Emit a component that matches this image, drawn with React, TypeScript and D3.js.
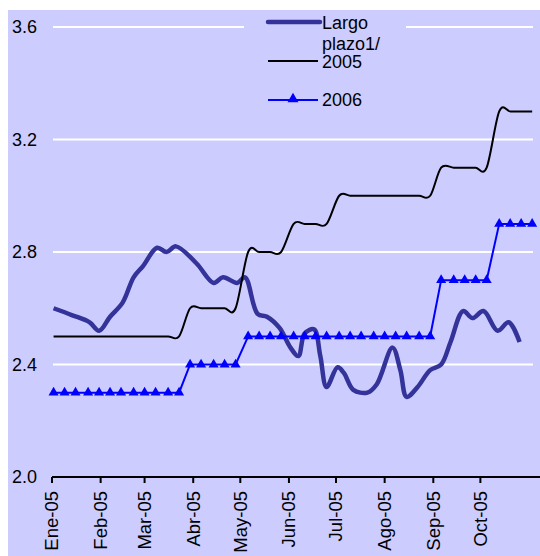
import React, { useEffect, useRef } from "react";
import * as d3 from "d3";

// weekly observation dates (2005 and 2006 series)
const fechasSemana = [
  "2005-01-02", "2005-01-09", "2005-01-16", "2005-01-24", "2005-01-31",
  "2005-02-07", "2005-02-14", "2005-02-22", "2005-03-01", "2005-03-08",
  "2005-03-16", "2005-03-23", "2005-03-30", "2005-04-06", "2005-04-14",
  "2005-04-21", "2005-04-28", "2005-05-06", "2005-05-13", "2005-05-20",
  "2005-05-27", "2005-06-04", "2005-06-11", "2005-06-18", "2005-06-25",
  "2005-07-03", "2005-07-10", "2005-07-17", "2005-07-25", "2005-08-01",
  "2005-08-08", "2005-08-15", "2005-08-23", "2005-08-30", "2005-09-06",
  "2005-09-14", "2005-09-21", "2005-09-28", "2005-10-05", "2005-10-13",
  "2005-10-20", "2005-10-27", "2005-11-03",
];

const serie2005 = [
  2.5, 2.5, 2.5, 2.5, 2.5, 2.5, 2.5, 2.5, 2.5, 2.5, 2.5, 2.5,
  2.6, 2.6, 2.6, 2.6, 2.6,
  2.8, 2.8, 2.8, 2.8,
  2.9, 2.9, 2.9, 2.9,
  3.0, 3.0, 3.0, 3.0, 3.0, 3.0, 3.0, 3.0, 3.0,
  3.1, 3.1, 3.1, 3.1, 3.1,
  3.3, 3.3, 3.3, 3.3,
];

const serie2006 = [
  2.3, 2.3, 2.3, 2.3, 2.3, 2.3, 2.3, 2.3, 2.3, 2.3, 2.3, 2.3,
  2.4, 2.4, 2.4, 2.4, 2.4,
  2.5, 2.5, 2.5, 2.5, 2.5, 2.5, 2.5, 2.5, 2.5, 2.5, 2.5, 2.5, 2.5, 2.5, 2.5, 2.5, 2.5,
  2.7, 2.7, 2.7, 2.7, 2.7,
  2.9, 2.9, 2.9, 2.9,
];

// long-term rate
const fechasLargo = [
  "2005-01-02", "2005-01-14", "2005-01-25", "2005-01-31", "2005-02-07",
  "2005-02-15", "2005-02-22", "2005-02-28", "2005-03-09", "2005-03-15",
  "2005-03-21", "2005-04-03", "2005-04-14", "2005-04-20", "2005-04-29",
  "2005-05-04", "2005-05-12", "2005-05-18", "2005-05-26", "2005-06-02",
  "2005-06-07", "2005-06-11", "2005-06-17", "2005-06-21", "2005-06-25",
  "2005-07-02", "2005-07-06", "2005-07-12", "2005-07-21", "2005-07-27",
  "2005-08-06", "2005-08-11", "2005-08-15", "2005-08-22", "2005-08-30",
  "2005-09-06", "2005-09-12", "2005-09-20", "2005-09-26", "2005-10-03",
  "2005-10-12", "2005-10-19", "2005-10-26",
];

const largoPlazo = [
  2.6, 2.575, 2.55, 2.52, 2.57, 2.62, 2.71, 2.75, 2.815, 2.8,
  2.82, 2.76, 2.69, 2.71, 2.69, 2.71, 2.58, 2.57, 2.53, 2.46,
  2.43, 2.51, 2.525, 2.43, 2.32, 2.39, 2.37, 2.31, 2.3, 2.33,
  2.46, 2.38, 2.285, 2.32, 2.38, 2.4, 2.48, 2.59, 2.565, 2.59,
  2.52, 2.55, 2.48,
];

const mesesTicks = [
  "2005-01-01", "2005-02-01", "2005-03-01", "2005-04-01", "2005-05-01",
  "2005-06-01", "2005-07-01", "2005-08-01", "2005-09-01", "2005-10-01",
];
const mesesLabels = [
  "Ene-05", "Feb-05", "Mar-05", "Abr-05", "May-05",
  "Jun-05", "Jul-05", "Ago-05", "Sep-05", "Oct-05",
];

const yTicks = [2.0, 2.4, 2.8, 3.2, 3.6];

const App = () => {
  const svgRef = useRef<SVGSVGElement | null>(null);

  useEffect(() => {
    const width = 540;
    const height = 556;
    const font = "Arial, 'Liberation Sans', sans-serif";
    const bg = "#ccccff";
    const parse = d3.utcParse("%Y-%m-%d");

    d3.select(svgRef.current).selectAll("*").remove();

    const svg = d3
      .select(svgRef.current)
      .attr("width", width)
      .attr("height", height)
      .style("font-family", font);

    svg
      .append("rect")
      .attr("x", 8)
      .attr("y", 10)
      .attr("width", width - 8)
      .attr("height", height - 10)
      .attr("fill", bg);

    const x = d3
      .scaleUtc()
      .domain([parse("2005-01-01")!, parse("2005-11-08")!])
      .range([52, 540]);

    const y = d3.scaleLinear().domain([2.0, 3.6]).range([477, 27]);

    // Gridlines
    svg
      .selectAll(".grid")
      .data(yTicks.filter((d) => d > 2.0))
      .enter()
      .append("line")
      .attr("x1", 53)
      .attr("x2", 533)
      .attr("y1", (d) => y(d))
      .attr("y2", (d) => y(d))
      .attr("stroke", "white")
      .attr("stroke-width", 2);

    // Y labels
    svg
      .selectAll(".ylab")
      .data(yTicks)
      .enter()
      .append("text")
      .attr("x", 37)
      .attr("y", (d) => y(d))
      .attr("dy", "0.35em")
      .attr("text-anchor", "end")
      .attr("font-size", 18)
      .text((d) => d3.format(".1f")(d));

    // X axis
    const xAxis = svg.append("g");
    xAxis
      .append("line")
      .attr("x1", 52)
      .attr("x2", 540)
      .attr("y1", y(2.0))
      .attr("y2", y(2.0))
      .attr("stroke", "black")
      .attr("stroke-width", 2);

    const ticks = mesesTicks.map((d, i) => ({ date: parse(d)!, label: mesesLabels[i] }));
    xAxis
      .selectAll(".tick")
      .data(ticks)
      .enter()
      .append("line")
      .attr("x1", (d) => x(d.date))
      .attr("x2", (d) => x(d.date))
      .attr("y1", y(2.0))
      .attr("y2", y(2.0) + 6)
      .attr("stroke", "black")
      .attr("stroke-width", 2);

    xAxis
      .selectAll(".xlab")
      .data(ticks)
      .enter()
      .append("text")
      .attr("transform", (d) => `translate(${x(d.date)},491) rotate(-90)`)
      .attr("dy", "0.35em")
      .attr("text-anchor", "end")
      .attr("font-size", 18.5)
      .text((d) => d.label);

    // Series
    const largo = fechasLargo.map((d, i) => ({ date: parse(d)!, value: largoPlazo[i] }));
    const s2005 = fechasSemana.map((d, i) => ({ date: parse(d)!, value: serie2005[i] }));
    const s2006 = fechasSemana.map((d, i) => ({ date: parse(d)!, value: serie2006[i] }));

    type Pt = { date: Date; value: number };

    svg
      .append("path")
      .datum(largo)
      .attr("fill", "none")
      .attr("stroke", "#333399")
      .attr("stroke-width", 4.5)
      .attr("stroke-linejoin", "round")
      .attr(
        "d",
        d3
          .line<Pt>()
          .x((d) => x(d.date))
          .y((d) => y(d.value))
          .curve(d3.curveCatmullRom.alpha(0.5))
      );

    svg
      .append("path")
      .datum(s2005)
      .attr("fill", "none")
      .attr("stroke", "black")
      .attr("stroke-width", 2)
      .attr(
        "d",
        d3
          .line<Pt>()
          .x((d) => x(d.date))
          .y((d) => y(d.value))
          .curve(d3.curveCatmullRom.alpha(0))
      );

    svg
      .append("path")
      .datum(s2006)
      .attr("fill", "none")
      .attr("stroke", "#0000ff")
      .attr("stroke-width", 2)
      .attr(
        "d",
        d3
          .line<Pt>()
          .x((d) => x(d.date))
          .y((d) => y(d.value))
      );

    const tri = d3.symbol().type(d3.symbolTriangle).size(44);
    svg
      .selectAll(".mark")
      .data(s2006)
      .enter()
      .append("path")
      .attr("d", tri()!)
      .attr("transform", (d) => `translate(${x(d.date)},${y(d.value)})`)
      .attr("fill", "#0000ff");

    // Legend
    const legend = svg.append("g");
    legend
      .append("rect")
      .attr("x", 244)
      .attr("y", 12)
      .attr("width", 162)
      .attr("height", 102)
      .attr("fill", bg);

    legend
      .append("line")
      .attr("x1", 268)
      .attr("x2", 320)
      .attr("y1", 22)
      .attr("y2", 22)
      .attr("stroke", "#333399")
      .attr("stroke-width", 4.5)
      .attr("stroke-linecap", "round");

    legend
      .append("line")
      .attr("x1", 268)
      .attr("x2", 318)
      .attr("y1", 61)
      .attr("y2", 61)
      .attr("stroke", "black")
      .attr("stroke-width", 2);

    legend
      .append("line")
      .attr("x1", 268)
      .attr("x2", 318)
      .attr("y1", 100)
      .attr("y2", 100)
      .attr("stroke", "#0000ff")
      .attr("stroke-width", 2);

    legend
      .append("path")
      .attr("d", d3.symbol().type(d3.symbolTriangle).size(52)()!)
      .attr("transform", "translate(293,99)")
      .attr("fill", "#0000ff");

    const legendText = [
      { text: "Largo", y: 29 },
      { text: "plazo1/", y: 50 },
      { text: "2005", y: 68 },
      { text: "2006", y: 106 },
    ];
    legend
      .selectAll(".ltext")
      .data(legendText)
      .enter()
      .append("text")
      .attr("x", 322)
      .attr("y", (d) => d.y)
      .attr("font-size", 18)
      .text((d) => d.text);
  }, []);

  return (
    <svg
      ref={svgRef}
      style={{ position: "absolute", left: 0, top: 0, display: "block" }}
    ></svg>
  );
};

export default App;
